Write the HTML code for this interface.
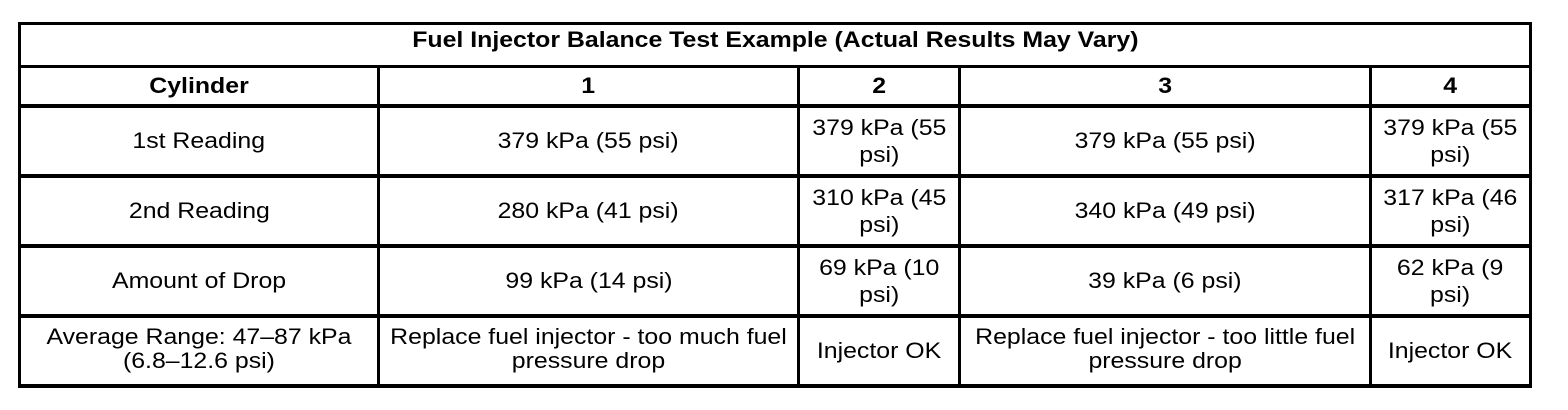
<!DOCTYPE html>
<html>
<head>
<meta charset="utf-8">
<style>
  html, body { margin:0; padding:0; background:#fff; }
  body { width:1568px; height:410px; position:relative; overflow:hidden;
         font-family:"Liberation Sans", Arial, sans-serif; color:#000; }
  .h { position:absolute; background:#000; height:4px; }
  .v { position:absolute; background:#000; width:3px; }
  .c { position:absolute; display:flex; align-items:center; justify-content:center;
       text-align:center; font-size:22px; line-height:24px; white-space:nowrap; }
  .c span { display:inline-block; transform:scaleX(1.13); transform-origin:50% 50%; }
  .n { line-height:27px; }
  .r4 span { position:relative; top:-2px; }
  .b { font-weight:bold; }
</style>
</head>
<body>
  <!-- horizontal lines -->
  <div class="h" style="left:18px;width:1514px;top:22px;height:3px;"></div>
  <div class="h" style="left:18px;width:1514px;top:65px;height:3px;"></div>
  <div class="h" style="left:18px;width:1514px;top:104px;"></div>
  <div class="h" style="left:18px;width:1514px;top:174px;"></div>
  <div class="h" style="left:18px;width:1514px;top:244px;"></div>
  <div class="h" style="left:18px;width:1514px;top:314px;"></div>
  <div class="h" style="left:18px;width:1514px;top:384px;"></div>
  <!-- vertical lines -->
  <div class="v" style="left:18px;top:22px;height:366px;"></div>
  <div class="v" style="left:377px;top:65px;height:323px;"></div>
  <div class="v" style="left:797px;top:65px;height:323px;"></div>
  <div class="v" style="left:958px;top:65px;height:323px;"></div>
  <div class="v" style="left:1369px;top:65px;height:323px;"></div>
  <div class="v" style="left:1529px;top:22px;height:366px;"></div>

  <!-- title -->
  <div class="c b" style="left:21px;width:1508px;top:25px;height:30px;"><span>Fuel Injector Balance Test Example (Actual Results May Vary)</span></div>

  <!-- header -->
  <div class="c b" style="left:21px;width:356px;top:68px;height:36px;"><span>Cylinder</span></div>
  <div class="c b" style="left:380px;width:417px;top:68px;height:36px;"><span>1</span></div>
  <div class="c b" style="left:800px;width:158px;top:68px;height:36px;"><span>2</span></div>
  <div class="c b" style="left:961px;width:408px;top:68px;height:36px;"><span>3</span></div>
  <div class="c b" style="left:1372px;width:157px;top:68px;height:36px;"><span>4</span></div>

  <!-- row 1 -->
  <div class="c" style="left:21px;width:356px;top:108px;height:66px;"><span>1st Reading</span></div>
  <div class="c" style="left:380px;width:417px;top:108px;height:66px;"><span>379 kPa (55 psi)</span></div>
  <div class="c n" style="left:800px;width:158px;top:108px;height:66px;"><span>379 kPa (55<br>psi)</span></div>
  <div class="c" style="left:961px;width:408px;top:108px;height:66px;"><span>379 kPa (55 psi)</span></div>
  <div class="c n" style="left:1372px;width:157px;top:108px;height:66px;"><span>379 kPa (55<br>psi)</span></div>

  <!-- row 2 -->
  <div class="c" style="left:21px;width:356px;top:178px;height:66px;"><span>2nd Reading</span></div>
  <div class="c" style="left:380px;width:417px;top:178px;height:66px;"><span>280 kPa (41 psi)</span></div>
  <div class="c n" style="left:800px;width:158px;top:178px;height:66px;"><span>310 kPa (45<br>psi)</span></div>
  <div class="c" style="left:961px;width:408px;top:178px;height:66px;"><span>340 kPa (49 psi)</span></div>
  <div class="c n" style="left:1372px;width:157px;top:178px;height:66px;"><span>317 kPa (46<br>psi)</span></div>

  <!-- row 3 -->
  <div class="c" style="left:21px;width:356px;top:248px;height:66px;"><span>Amount of Drop</span></div>
  <div class="c" style="left:380px;width:417px;top:248px;height:66px;"><span>99 kPa (14 psi)</span></div>
  <div class="c n" style="left:800px;width:158px;top:248px;height:66px;"><span>69 kPa (10<br>psi)</span></div>
  <div class="c" style="left:961px;width:408px;top:248px;height:66px;"><span>39 kPa (6 psi)</span></div>
  <div class="c n" style="left:1372px;width:157px;top:248px;height:66px;"><span>62 kPa (9<br>psi)</span></div>

  <!-- row 4 -->
  <div class="c r4" style="left:21px;width:356px;top:318px;height:66px;"><span>Average Range: 47–87 kPa<br>(6.8–12.6 psi)</span></div>
  <div class="c r4" style="left:380px;width:417px;top:318px;height:66px;"><span>Replace fuel injector - too much fuel<br>pressure drop</span></div>
  <div class="c" style="left:800px;width:158px;top:318px;height:66px;"><span>Injector OK</span></div>
  <div class="c r4" style="left:961px;width:408px;top:318px;height:66px;"><span>Replace fuel injector - too little fuel<br>pressure drop</span></div>
  <div class="c" style="left:1372px;width:157px;top:318px;height:66px;"><span>Injector OK</span></div>
</body>
</html>
